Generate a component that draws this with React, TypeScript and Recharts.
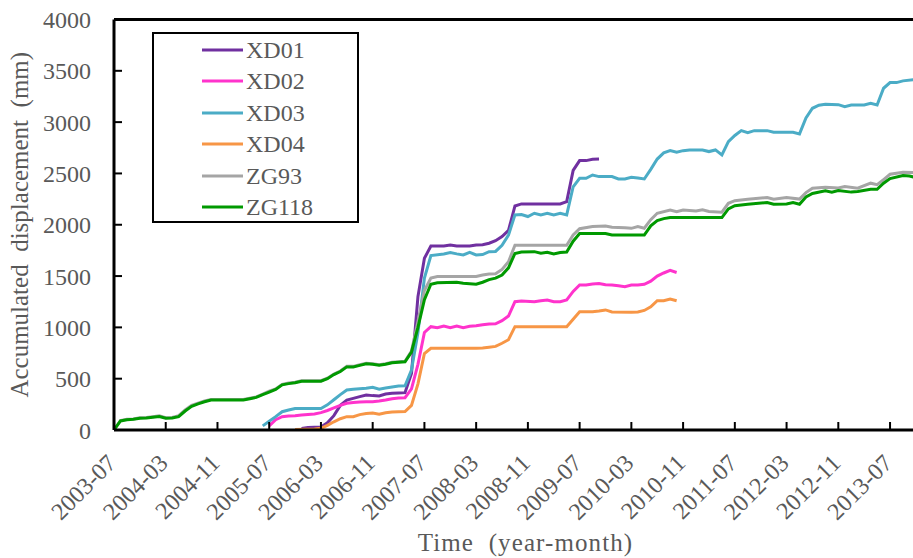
import React from 'react';
import { LineChart, Line, XAxis, YAxis, Legend, ReferenceLine } from 'recharts';

// month index 0 = 2003-07
const TICK_MONTHS = [0, 8, 16, 24, 32, 40, 48, 56, 64, 72, 80, 88, 96, 104, 112, 120];
const TICK_LABELS = ['2003-07', '2004-03', '2004-11', '2005-07', '2006-03', '2006-11', '2007-07', '2008-03', '2008-11', '2009-07', '2010-03', '2010-11', '2011-07', '2012-03', '2012-11', '2013-07'];
const Y_TICKS = [0, 500, 1000, 1500, 2000, 2500, 3000, 3500, 4000];

const XD01: [number, number][] = [[29,15],[30,25],[32,30],[33,70],[34,140],[35,240],[36,292],[37,308],[38,325],[39,341],[40,335],[41,331],[42,350],[43,357],[44,360],[45,364],[46,552],[47,1300],[48,1673],[49,1793],[51,1793],[52,1803],[53,1793],[55,1793],[56,1803],[57,1805],[58,1820],[59,1845],[60,1885],[61,1945],[62,2183],[63,2203],[69,2203],[70,2225],[71,2530],[72,2625],[73,2625],[74,2638],[75,2640]];
const XD02: [number, number][] = [[24,40],[25,100],[26,130],[27,136],[28,140],[29,146],[30,152],[31,156],[32,169],[33,190],[34,215],[35,240],[36,260],[37,267],[38,272],[39,276],[40,276],[41,282],[42,292],[43,305],[44,312],[45,315],[46,400],[47,640],[48,950],[49,1007],[50,997],[51,1014],[52,997],[53,1014],[54,997],[55,1010],[56,1016],[57,1025],[58,1033],[59,1035],[60,1065],[61,1110],[62,1250],[63,1257],[65,1250],[66,1260],[67,1267],[68,1250],[69,1250],[70,1267],[71,1350],[72,1413],[73,1413],[74,1423],[75,1428],[76,1415],[77,1413],[78,1405],[79,1397],[80,1413],[81,1413],[82,1420],[83,1450],[84,1500],[85,1530],[86,1555],[87,1535]];
const XD03: [number, number][] = [[23,40],[24,85],[25,130],[26,178],[27,195],[28,210],[32,210],[33,245],[34,295],[35,345],[36,390],[37,397],[39,406],[40,416],[41,397],[42,410],[43,420],[44,428],[45,430],[46,585],[47,950],[48,1480],[49,1700],[51,1716],[52,1729],[53,1716],[54,1706],[55,1730],[56,1706],[57,1710],[58,1738],[59,1740],[60,1800],[61,1900],[62,2096],[63,2100],[64,2080],[65,2112],[66,2096],[67,2112],[68,2096],[69,2112],[70,2096],[71,2370],[72,2453],[73,2453],[74,2485],[75,2469],[77,2469],[78,2446],[79,2446],[80,2463],[81,2455],[82,2446],[83,2540],[84,2640],[85,2700],[86,2722],[87,2706],[88,2722],[89,2729],[91,2729],[92,2713],[93,2729],[94,2680],[95,2810],[96,2870],[97,2917],[98,2898],[99,2917],[101,2917],[102,2901],[105,2901],[106,2885],[107,3040],[108,3135],[109,3165],[110,3174],[112,3170],[113,3151],[114,3167],[116,3167],[117,3184],[118,3167],[119,3330],[120,3385],[121,3385],[122,3402],[124,3415]];
const XD04: [number, number][] = [[28,5],[31,10],[32,16],[33,45],[34,80],[35,110],[36,130],[37,130],[38,150],[39,160],[40,165],[41,153],[42,168],[43,175],[44,178],[45,180],[46,240],[47,450],[48,745],[49,796],[56,796],[57,798],[58,806],[59,815],[60,845],[61,880],[62,1007],[70,1007],[71,1080],[72,1153],[74,1153],[75,1160],[76,1170],[77,1150],[80,1147],[81,1150],[82,1165],[83,1200],[84,1260],[85,1260],[86,1277],[87,1260]];
const ZG93: [number, number][] = [[0,0],[1,92],[2,105],[3,108],[4,120],[5,123],[6,130],[7,138],[8,120],[9,123],[10,140],[11,195],[12,240],[13,262],[14,282],[15,297],[20,297],[21,310],[22,323],[23,350],[24,378],[25,400],[26,445],[27,458],[28,465],[29,480],[32,480],[33,505],[34,545],[35,575],[36,620],[37,620],[38,635],[39,650],[40,645],[41,635],[42,645],[43,660],[44,665],[45,670],[46,770],[47,1060],[48,1360],[49,1480],[50,1495],[56,1495],[57,1510],[58,1520],[59,1522],[60,1565],[61,1640],[62,1800],[70,1800],[71,1900],[72,1962],[74,1982],[76,1988],[77,1975],[79,1970],[80,1965],[81,1982],[82,1966],[83,2050],[84,2112],[86,2144],[87,2128],[88,2144],[90,2135],[91,2145],[92,2130],[94,2122],[95,2209],[96,2235],[98,2248],[101,2265],[102,2248],[104,2265],[106,2250],[107,2313],[108,2356],[110,2366],[112,2358],[113,2372],[115,2356],[117,2405],[118,2390],[119,2440],[120,2492],[122,2511],[124,2508]];
const ZG118: [number, number][] = [[0,0],[1,88],[2,100],[3,105],[4,115],[5,118],[6,125],[7,132],[8,115],[9,118],[10,130],[11,185],[12,230],[13,255],[14,275],[15,292],[20,292],[21,305],[22,318],[23,345],[24,370],[25,395],[26,440],[27,452],[28,460],[29,475],[32,475],[33,500],[34,540],[35,570],[36,615],[37,615],[38,630],[39,645],[40,640],[41,630],[42,640],[43,655],[44,660],[45,665],[46,760],[47,1000],[48,1270],[49,1420],[50,1435],[53,1440],[54,1430],[56,1420],[57,1440],[58,1465],[59,1480],[60,1510],[61,1580],[62,1720],[63,1735],[65,1738],[66,1722],[67,1732],[68,1715],[69,1730],[70,1735],[71,1840],[72,1915],[76,1915],[77,1900],[82,1900],[83,1990],[84,2040],[85,2060],[86,2070],[94,2070],[95,2155],[96,2185],[98,2200],[101,2216],[102,2200],[104,2203],[105,2216],[106,2200],[107,2270],[108,2305],[110,2330],[111,2318],[112,2333],[114,2318],[115,2325],[117,2346],[118,2346],[119,2405],[120,2450],[122,2480],[123,2475],[124,2460]];

const SERIES = [
  { name: 'XD01', points: XD01, color: '#7030A0' },
  { name: 'XD02', points: XD02, color: '#FF33CC' },
  { name: 'XD03', points: XD03, color: '#4BACC6' },
  { name: 'XD04', points: XD04, color: '#F79646' },
  { name: 'ZG93', points: ZG93, color: '#A5A5A5' },
  { name: 'ZG118', points: ZG118, color: '#009900' },
];
const SERIES_ORDER = SERIES.map((s) => s.name);

const X_TITLE = 'Time\u00A0\u00A0(year-month)';
const Y_TITLE = 'Accumulated\u00A0\u00A0displacement\u00A0\u00A0(mm)';

const FONT = '"Liberation Serif", "Times New Roman", serif';
const TEXT_COLOR = '#595959';

const XTick = (props: any) => {
  const { x, y, payload } = props;
  const idx = TICK_MONTHS.indexOf(payload.value);
  const label = idx >= 0 ? TICK_LABELS[idx] : '';
  const ax = x - 2;
  return (
    <text
      x={ax}
      y={y}
      dy="0.33em"
      textAnchor="end"
      transform={`rotate(-45, ${ax}, ${y})`}
      fill={TEXT_COLOR}
      fontSize={24}
      fontFamily={FONT}
    >
      {label}
    </text>
  );
};

const XTitle = (props: any) => {
  const vb = props.viewBox;
  const cx = vb.x + vb.width / 2 + 12;
  const cy = vb.y + vb.height - 7;
  return (
    <text x={cx} y={cy} textAnchor="middle" fill={TEXT_COLOR} fontSize={25} fontFamily={FONT} letterSpacing={1.1}>
      {X_TITLE}
    </text>
  );
};

const YTitle = (props: any) => {
  const vb = props.viewBox;
  const cx = vb.x + 10;
  const cy = vb.y + vb.height / 2;
  return (
    <text
      x={cx}
      y={cy}
      textAnchor="middle"
      transform={`rotate(-90, ${cx}, ${cy})`}
      fill={TEXT_COLOR}
      fontSize={25}
      fontFamily={FONT}
    >
      {Y_TITLE}
    </text>
  );
};

const LegendBox = (props: any) => {
  const payload = [...(props.payload || [])].sort(
    (a: any, b: any) => SERIES_ORDER.indexOf(a.value) - SERIES_ORDER.indexOf(b.value)
  );
  return (
    <div
      style={{
        position: 'relative',
        width: 207,
        height: 191,
        border: '2.5px solid #000',
        boxSizing: 'border-box',
        background: '#fff',
      }}
    >
      {payload.map((p: any, i: number) => (
        <div
          key={p.value}
          style={{
            position: 'absolute',
            left: 0,
            top: 15.5 + i * 31.5 - 14,
            height: 28,
            display: 'flex',
            alignItems: 'center',
          }}
        >
          <svg width={92} height={28} style={{ display: 'block' }}>
            <line x1={48} x2={89} y1={14} y2={14} stroke={p.color} strokeWidth={3} />
          </svg>
          <span style={{ fontFamily: FONT, fontSize: 24, color: TEXT_COLOR, lineHeight: '28px' }}>{p.value}</span>
        </div>
      ))}
    </div>
  );
};

export default function App() {
  return (
    <div style={{ position: 'fixed', left: 0, top: 0, width: 913, height: 558, background: '#fff' }}>
      <LineChart width={913} height={558} margin={{ top: 19.5, right: 0, left: 18, bottom: 0 }}>
        <XAxis
          type="number"
          dataKey="m"
          domain={[0, 123.55]}
          allowDataOverflow
          ticks={TICK_MONTHS}
          interval={0}
          tick={<XTick />}
          tickSize={-8}
          tickMargin={37}
          tickLine={{ stroke: '#000', strokeWidth: 2 }}
          axisLine={{ stroke: '#000', strokeWidth: 3 }}
          height={128}
          label={<XTitle />}
        />
        <YAxis
          type="number"
          domain={[0, 4000]}
          ticks={Y_TICKS}
          interval={0}
          width={96}
          tickSize={-8}
          tickMargin={31}
          tick={{ fill: TEXT_COLOR, fontSize: 24, fontFamily: FONT }}
          tickLine={{ stroke: '#000', strokeWidth: 2 }}
          axisLine={{ stroke: '#000', strokeWidth: 3 }}
          label={<YTitle />}
        />
        <ReferenceLine y={4000} stroke="#000" strokeWidth={3} />
        <Legend
          layout="vertical"
          align="center"
          verticalAlign="middle"
          itemSorter={null as any}
          content={<LegendBox />}
          wrapperStyle={{ left: 152, top: 32, width: 207, height: 191 }}
        />
        {SERIES.map((s) => (
          <Line
            key={s.name}
            name={s.name}
            data={s.points.map(([m, v]) => ({ m, v }))}
            dataKey="v"
            type="linear"
            stroke={s.color}
            strokeWidth={3}
            dot={false}
            activeDot={false}
            isAnimationActive={false}
          />
        ))}
      </LineChart>
    </div>
  );
}
